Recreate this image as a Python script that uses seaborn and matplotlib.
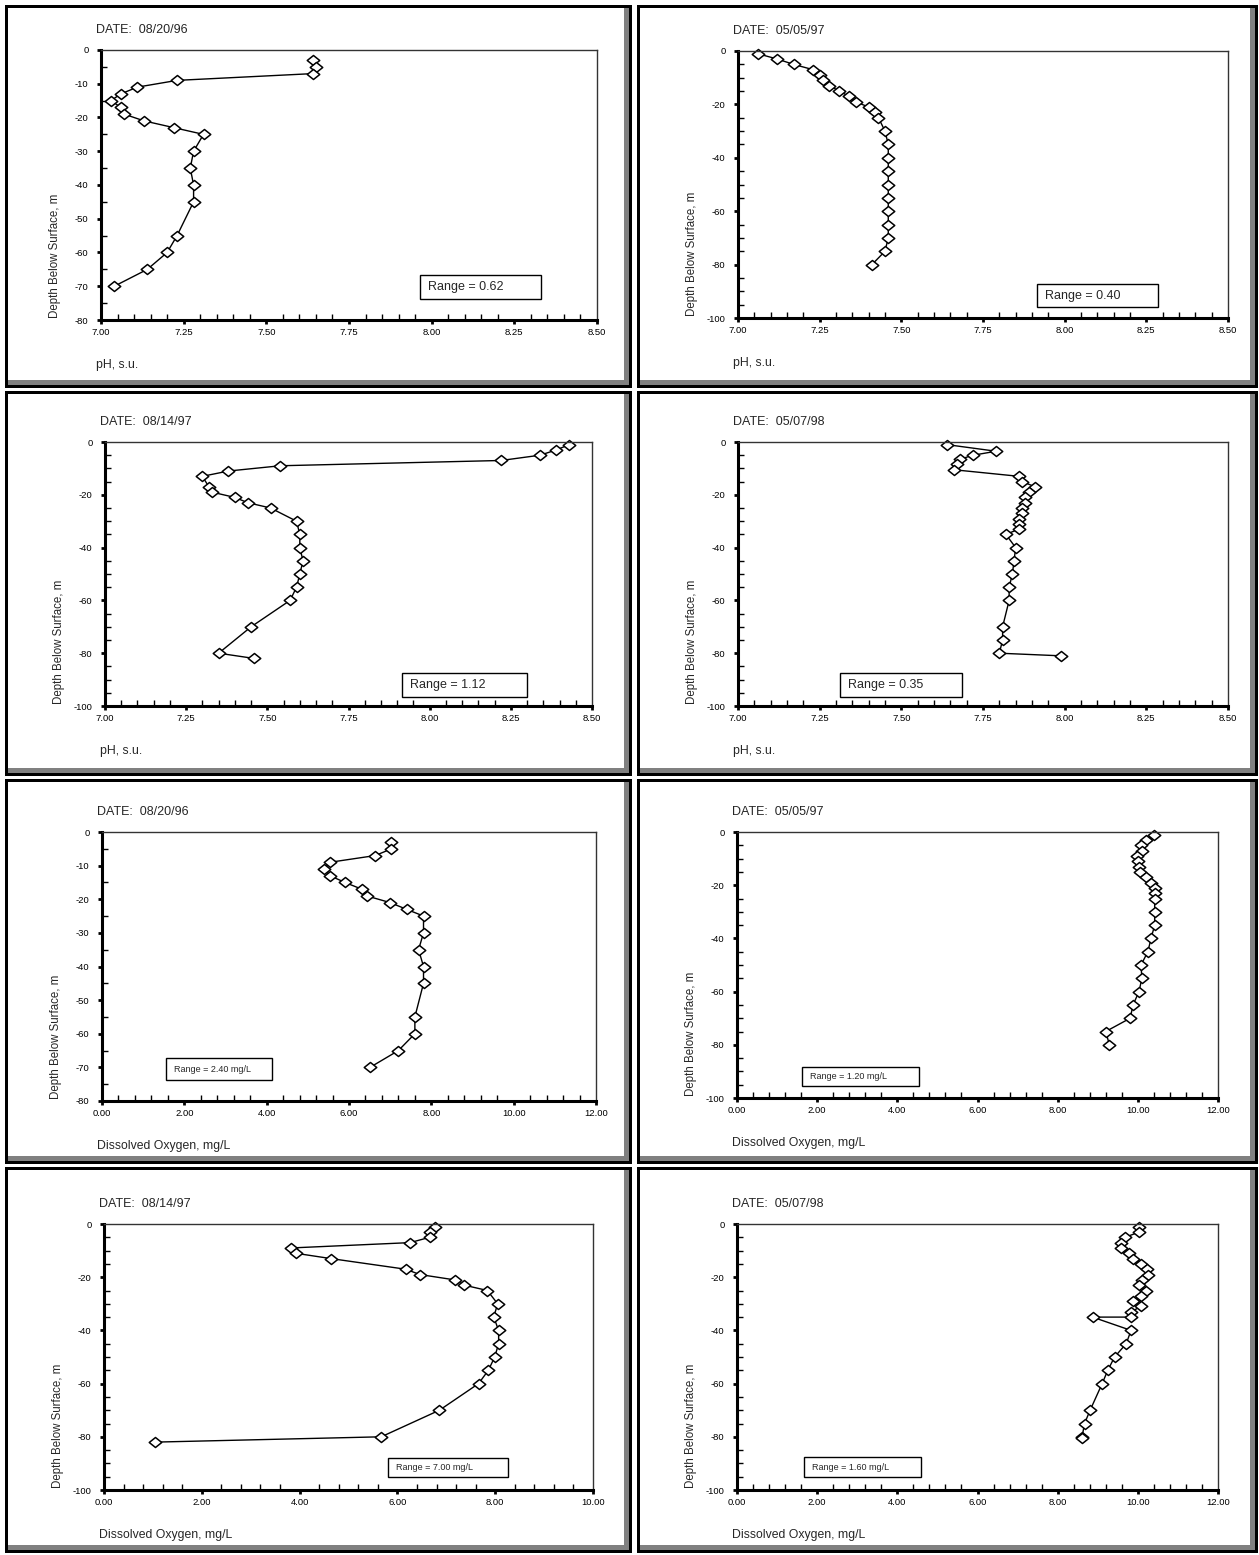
import numpy as np
import pandas as pd
import matplotlib
matplotlib.use("Agg")
import matplotlib.pyplot as plt
import seaborn as sns
from matplotlib.patches import Rectangle
from matplotlib.path import Path
from matplotlib.ticker import MultipleLocator, FormatStrFormatter

# ---------------- data ----------------
dates = ["08/20/96", "05/05/97", "08/14/97", "05/07/98",
         "08/20/96", "05/05/97", "08/14/97", "05/07/98"]
range_labels = ["Range = 0.62", "Range = 0.40", "Range = 1.12", "Range = 0.35",
                "Range = 2.40 mg/L", "Range = 1.20 mg/L", "Range = 7.00 mg/L", "Range = 1.60 mg/L"]

ph_960820_depth = [-3, -5, -7, -9, -11, -13, -15, -17, -19, -21, -23, -25, -30, -35, -40, -45, -55, -60, -65, -70]
ph_960820 = [7.64, 7.65, 7.64, 7.23, 7.11, 7.06, 7.03, 7.06, 7.07, 7.13, 7.22, 7.31, 7.28, 7.27, 7.28, 7.28, 7.23, 7.20, 7.14, 7.04]

ph_970505_depth = [-1, -3, -5, -7, -9, -11, -13, -15, -17, -19, -21, -23, -25, -30, -35, -40, -45, -50, -55, -60, -65, -70, -75, -80]
ph_970505 = [7.06, 7.12, 7.17, 7.23, 7.25, 7.26, 7.28, 7.31, 7.34, 7.36, 7.40, 7.42, 7.43, 7.45, 7.46, 7.46, 7.46, 7.46, 7.46, 7.46, 7.46, 7.46, 7.45, 7.41]

ph_970814_depth = [-1, -3, -5, -7, -9, -11, -13, -17, -19, -21, -23, -25, -30, -35, -40, -45, -50, -55, -60, -70, -80, -82]
ph_970814 = [8.43, 8.39, 8.34, 8.22, 7.54, 7.38, 7.30, 7.32, 7.33, 7.40, 7.44, 7.51, 7.59, 7.60, 7.60, 7.61, 7.60, 7.59, 7.57, 7.45, 7.35, 7.46]

ph_980507_depth = [-1, -3.5, -5, -6.5, -8.5, -10.5, -13, -15, -17, -19, -21, -23, -25, -27, -29, -31, -33, -35, -40, -45, -50, -55, -60, -70, -75, -80, -81]
ph_980507 = [7.64, 7.79, 7.72, 7.68, 7.67, 7.66, 7.86, 7.87, 7.91, 7.89, 7.88, 7.88, 7.87, 7.87, 7.86, 7.86, 7.86, 7.82, 7.85, 7.845, 7.84, 7.83, 7.83, 7.81, 7.81, 7.80, 7.99]

do_960820_depth = [-3, -5, -7, -9, -11, -13, -15, -17, -19, -21, -23, -25, -30, -35, -40, -45, -55, -60, -65, -70]
do_960820 = [7.02, 7.03, 6.64, 5.54, 5.39, 5.54, 5.90, 6.31, 6.43, 7.00, 7.40, 7.81, 7.81, 7.69, 7.81, 7.81, 7.60, 7.60, 7.20, 6.51]

do_970505_depth = [-1, -3, -5, -7, -9, -11, -13, -15, -17, -19, -21, -23, -25, -30, -35, -40, -45, -50, -55, -60, -65, -70, -75, -80]
do_970505 = [10.40, 10.21, 10.08, 10.10, 9.98, 10.00, 10.04, 10.06, 10.21, 10.32, 10.44, 10.42, 10.42, 10.42, 10.42, 10.33, 10.25, 10.08, 10.10, 10.03, 9.88, 9.81, 9.20, 9.29]

do_970814_depth = [-1, -3, -5, -7, -9, -11, -13, -17, -19, -21, -23, -25, -30, -35, -40, -45, -50, -55, -60, -70, -80, -82]
do_970814 = [6.77, 6.66, 6.66, 6.26, 3.83, 3.92, 4.64, 6.17, 6.46, 7.17, 7.37, 7.84, 8.05, 7.97, 8.07, 8.07, 7.99, 7.86, 7.66, 6.86, 5.67, 1.04]

do_980507_depth = [-1, -3, -5, -7, -9, -11, -13, -15, -17, -19, -21, -23, -25, -27, -29, -31, -33, -35, -35, -40, -45, -50, -55, -60, -70, -75, -80, -80.5]
do_980507 = [10.02, 10.04, 9.68, 9.57, 9.58, 9.79, 9.88, 10.08, 10.23, 10.25, 10.10, 10.02, 10.21, 10.07, 9.88, 10.08, 9.83, 9.82, 8.87, 9.83, 9.71, 9.42, 9.25, 9.11, 8.81, 8.67, 8.61, 8.61]

series = [(ph_960820, ph_960820_depth), (ph_970505, ph_970505_depth),
          (ph_970814, ph_970814_depth), (ph_980507, ph_980507_depth),
          (do_960820, do_960820_depth), (do_970505, do_970505_depth),
          (do_970814, do_970814_depth), (do_980507, do_980507_depth)]

# ---------------- layout (pixels) ----------------
W, H = 1259, 1555
sns.set_theme(style="white")
plt.rcParams["font.family"] = ["Liberation Sans", "DejaVu Sans"]
plt.rcParams["axes.unicode_minus"] = False

fig = plt.figure(figsize=(W / 100, H / 100), dpi=100)
fig.patch.set_facecolor("white")

col_x = [(5, 632), (637, 1258)]
row_y = [(5, 388), (391, 776), (779, 1164), (1167, 1553)]

# axes boxes: left, right, top, bottom (pixel)
ax_boxes = [(101, 597, 50, 320), (738, 1228, 51, 318),
            (105, 592, 442, 706), (738, 1228, 442, 706),
            (102, 596, 832, 1101), (737, 1218, 832, 1098),
            (104, 593, 1224, 1490), (737, 1218, 1224, 1490)]
xlims = [(7, 8.5)] * 4 + [(0, 12), (0, 12), (0, 10), (0, 12)]
ylims = [(-80, 0), (-100, 0), (-100, 0), (-100, 0), (-80, 0), (-100, 0), (-100, 0), (-100, 0)]
ymajor = [10, 20, 20, 20, 10, 20, 20, 20]
range_boxes = [(420, 541, 275, 299), (1037, 1158, 284, 307),
               (402, 527, 673, 697), (840, 962, 673, 697),
               (166, 272, 1058, 1080), (802, 919, 1067, 1086),
               (388, 508, 1458, 1477), (804, 921, 1457, 1477)]
xlabels = ["pH, s.u."] * 4 + ["Dissolved Oxygen, mg/L"] * 4

def fx(px):
    return px / W

def fy(py):
    return 1 - py / H

# panel frames (behind the axes)
for r in range(4):
    for c in range(2):
        x0, x1 = col_x[c]
        y0, y1 = row_y[r]
        fig.patches.append(Rectangle((fx(x0), fy(y1)), fx(x1 - x0), (y1 - y0) / H,
                                     transform=fig.transFigure, facecolor="black",
                                     edgecolor="none", zorder=-3))
        fig.patches.append(Rectangle((fx(x0 + 3), fy(y1 - 3)), fx(x1 - x0 - 6), (y1 - y0 - 6) / H,
                                     transform=fig.transFigure, facecolor="#808080",
                                     edgecolor="none", zorder=-2))
        fig.patches.append(Rectangle((fx(x0 + 3), fy(y1 - 8)), fx(x1 - x0 - 11), (y1 - y0 - 11) / H,
                                     transform=fig.transFigure, facecolor="white",
                                     edgecolor="none", zorder=-1))

diamond = Path([(-1.25, 0), (0, 1), (1.25, 0), (0, -1), (-1.25, 0)],
               [Path.MOVETO, Path.LINETO, Path.LINETO, Path.LINETO, Path.CLOSEPOLY])

for i, (vals, depth) in enumerate(series):
    l, rgt, t, b = ax_boxes[i]
    ax = fig.add_axes([fx(l), fy(b), fx(rgt - l), (b - t) / H])
    ax.set_zorder(1)
    ax.set_facecolor("white")
    df = pd.DataFrame({"value": vals, "depth": depth})
    sns.lineplot(data=df, x="value", y="depth", sort=False, estimator=None, ax=ax,
                 color="black", linewidth=1.0, marker=diamond, markersize=9,
                 markerfacecolor="white", markeredgecolor="black", markeredgewidth=1.1)
    ax.set_xlim(*xlims[i])
    ax.set_ylim(*ylims[i])
    ax.set_xlabel("")
    ax.set_ylabel("")
    if i < 4:
        ax.xaxis.set_major_locator(MultipleLocator(0.25))
        ax.xaxis.set_minor_locator(MultipleLocator(0.05))
    else:
        ax.xaxis.set_major_locator(MultipleLocator(2))
        ax.xaxis.set_minor_locator(MultipleLocator(0.4))
    ax.xaxis.set_major_formatter(FormatStrFormatter("%.2f"))
    ax.yaxis.set_major_locator(MultipleLocator(ymajor[i]))
    ax.yaxis.set_minor_locator(MultipleLocator(5))
    ax.yaxis.set_major_formatter(FormatStrFormatter("%d"))
    ax.tick_params(which="major", direction="out", length=3, width=2, colors="black",
                   labelsize=6.8, pad=3)
    ax.tick_params(which="minor", direction="in", length=4, width=1, colors="black")
    ax.tick_params(axis="y", which="major", pad=6)
    ax.tick_params(bottom=True, left=True, which="both")
    for s in ["left", "bottom"]:
        ax.spines[s].set_linewidth(2.2)
        ax.spines[s].set_color("black")
    for s in ["top", "right"]:
        ax.spines[s].set_linewidth(1.0)
        ax.spines[s].set_color("#333333")
    for ln in ax.lines:
        ln.set_clip_on(False)

    # texts
    fig.text(fx(l - 5), fy(t - 20), "DATE:  " + dates[i], fontsize=9, ha="left", va="center")
    fig.text(fx(l - 5), fy(b + 45), xlabels[i], fontsize=8.8, ha="left", va="center")
    fig.text(fx(l - 46), fy(b - 64), "Depth Below Surface, m", fontsize=8.3,
             rotation=90, ha="center", va="center")

    # range box
    rx0, rx1, ry0, ry1 = range_boxes[i]
    fig.patches.append(Rectangle((fx(rx0), fy(ry1)), fx(rx1 - rx0), (ry1 - ry0) / H,
                                 transform=fig.transFigure, facecolor="white",
                                 edgecolor="black", linewidth=1.0, zorder=5))
    fig.text(fx(rx0 + 8), fy((ry0 + ry1) / 2), range_labels[i],
             fontsize=9 if i < 4 else 6.5, ha="left", va="center", zorder=6)

fig.savefig("out.png", dpi=100, facecolor="white")
